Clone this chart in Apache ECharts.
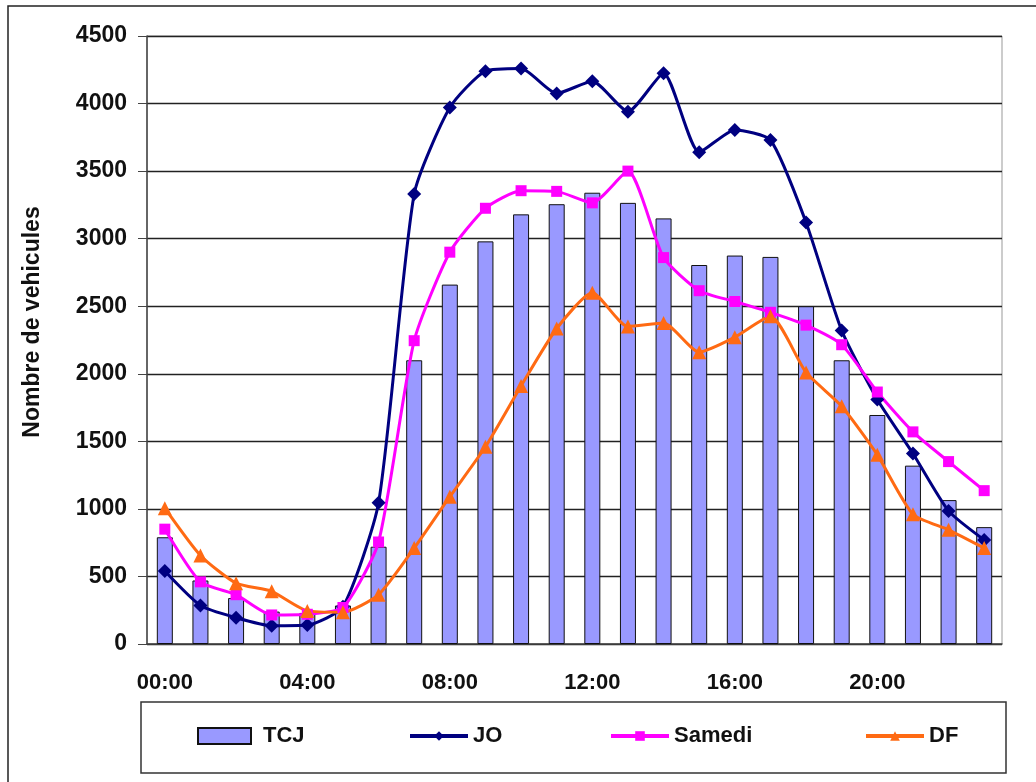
<!DOCTYPE html>
<html>
<head>
<meta charset="utf-8">
<script src="https://cdn.jsdelivr.net/npm/echarts@6/dist/echarts.min.js"></script>
<style>
  html, body { margin: 0; padding: 0; background: #fff; }
  #main { width: 1036px; height: 782px; }
</style>
</head>
<body>
<div id="main"></div>
<script>
// heures de la journee
var hours = ['00:00', '01:00', '02:00', '03:00', '04:00', '05:00', '06:00', '07:00',
  '08:00', '09:00', '10:00', '11:00', '12:00', '13:00', '14:00', '15:00',
  '16:00', '17:00', '18:00', '19:00', '20:00', '21:00', '22:00', '23:00']

var tcj = [790, 470, 340, 240, 230, 285, 720, 2100, 2660, 2980, 3180, 3255,
  3340, 3265, 3150, 2805, 2875, 2865, 2500, 2100, 1695, 1320, 1065, 865]
var jo = [540, 285, 195, 135, 140, 275, 1045, 3330, 3970, 4240, 4260, 4075,
  4165, 3940, 4225, 3640, 3805, 3730, 3120, 2320, 1810, 1410, 985, 770]
var samedi = [850, 460, 365, 215, 220, 270, 755, 2245, 2900, 3225, 3355, 3350,
  3265, 3500, 2860, 2615, 2535, 2455, 2360, 2215, 1865, 1570, 1350, 1135]
var df = [1005, 655, 450, 390, 245, 235, 365, 710, 1090, 1460, 1910, 2335,
  2600, 2350, 2375, 2160, 2270, 2425, 2010, 1760, 1400, 960, 845, 710]

var yMax = 4500
var yStep = 500

var font = "'Liberation Sans', Arial, sans-serif"
var txt = '#111'

var chart = echarts.init(document.getElementById('main'))

function legendItem (name, left, w, h, extra) {
  return Object.assign({
    data: [name],
    left: left,
    top: 725,
    padding: 0,
    itemWidth: w,
    itemHeight: h,
    selectedMode: false,
    lineStyle: { width: 4 },
    textStyle: { fontFamily: font, fontWeight: 'bold', fontSize: 22, color: txt }
  }, extra || {})
}

var options = {
  backgroundColor: '#fff',
  animation: false,
  grid: {
    left: 147,
    right: 34,
    top: 36,
    bottom: 138,
    show: true,
    borderColor: '#999',
    borderWidth: 1
  },
  legend: [
    legendItem('TCJ', 197, 53, 16, {
      data: [{ name: 'TCJ', icon: 'rect' }],
      textStyle: { fontFamily: font, fontWeight: 'bold', fontSize: 22, color: txt, padding: [0, 0, 0, 7] }
    }),
    legendItem('JO', 408, 58, 12),
    legendItem('Samedi', 609, 58, 12),
    legendItem('DF', 864, 58, 12)
  ],
  graphic: [
    { // cadre exterieur
      type: 'rect',
      shape: { x: 8, y: 6, width: 1100, height: 900 },
      style: { fill: 'none', stroke: '#222', lineWidth: 1.5 }
    },
    { // cadre de la legende
      type: 'rect',
      shape: { x: 141, y: 702, width: 865, height: 71 },
      style: { fill: 'none', stroke: '#333', lineWidth: 1.5 }
    },
    {
      type: 'text',
      x: 33,
      y: 322,
      rotation: Math.PI / 2,
      style: {
        text: 'Nombre de vehicules',
        fontFamily: font,
        fontWeight: 'bold',
        fontSize: 23,
        fill: txt,
        align: 'center',
        verticalAlign: 'middle'
      }
    }
  ],
  xAxis: {
    type: 'category',
    data: hours,
    boundaryGap: true,
    axisLine: { lineStyle: { color: '#444', width: 1.5 } },
    axisTick: { interval: 3, length: 8, lineStyle: { color: '#444' } },
    axisLabel: {
      interval: 3,
      margin: 28,
      fontFamily: font,
      fontWeight: 'bold',
      fontSize: 22,
      color: txt
    }
  },
  yAxis: {
    type: 'value',
    min: 0,
    max: yMax,
    interval: yStep,
    axisLine: { show: true, lineStyle: { color: '#444', width: 1.5 } },
    axisTick: { show: true, length: 9, lineStyle: { color: '#444' } },
    axisLabel: {
      margin: 20,
      formatter: function (v) { return String(v) },
      fontFamily: font,
      fontWeight: 'bold',
      fontSize: 23,
      color: txt
    },
    splitLine: { lineStyle: { color: '#222', width: 1.3 } }
  },
  series: [
    {
      name: 'TCJ',
      type: 'bar',
      data: tcj,
      barWidth: 16,
      itemStyle: { color: '#9999ff', borderColor: '#111', borderWidth: 1 }
    },
    {
      name: 'JO',
      type: 'line',
      data: jo,
      smooth: 0.2,
      symbol: 'diamond',
      symbolSize: 14,
      lineStyle: { color: '#000080', width: 3 },
      itemStyle: { color: '#000080' }
    },
    {
      name: 'Samedi',
      type: 'line',
      data: samedi,
      smooth: 0.2,
      symbol: 'rect',
      symbolSize: 11,
      lineStyle: { color: '#ff00ff', width: 3 },
      itemStyle: { color: '#ff00ff' }
    },
    {
      name: 'DF',
      type: 'line',
      data: df,
      smooth: 0.2,
      symbol: 'triangle',
      symbolSize: 14,
      lineStyle: { color: '#ff6a13', width: 3 },
      itemStyle: { color: '#ff6a13' }
    }
  ]
}
chart.setOption(options)
</script>
</body>
</html>
